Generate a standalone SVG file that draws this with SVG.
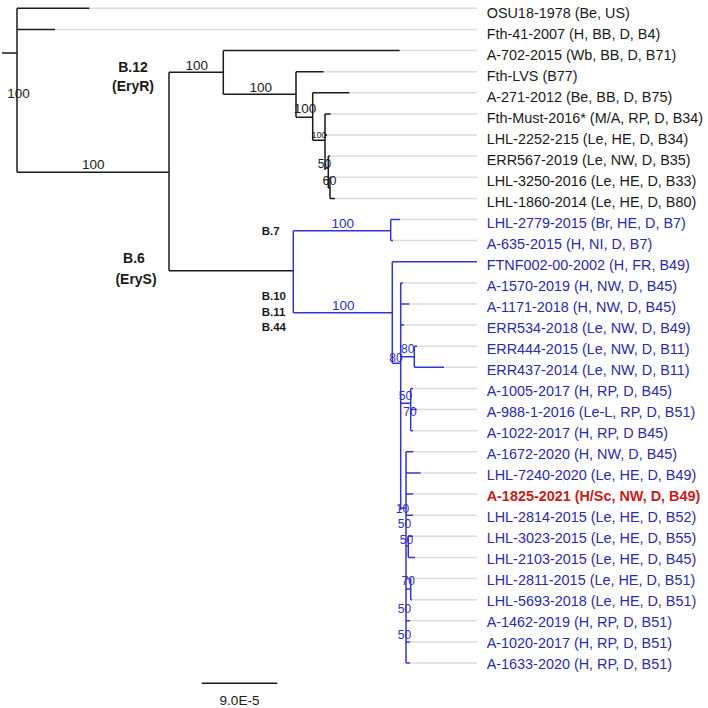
<svg xmlns="http://www.w3.org/2000/svg" width="708" height="708" viewBox="0 0 708 708">
<style>
.k{stroke:#1a1a1a;stroke-width:1.5;fill:none}
.b{stroke:#3434d2;stroke-width:1.5;fill:none}
.g{stroke:#dcdcdc;stroke-width:1.5;fill:none}
.lk{font-family:"Liberation Sans",Arial,sans-serif;font-size:14.4px;fill:#1a1a1a}
.lb{font-family:"Liberation Sans",Arial,sans-serif;font-size:14.4px;fill:#2a2aae}
.lr{font-family:"Liberation Sans",Arial,sans-serif;font-size:14.4px;fill:#cc1a1a;font-weight:bold}
.sk{font-family:"Liberation Sans",Arial,sans-serif;font-size:13.5px;fill:#1a1a1a;text-anchor:middle}
.sb{font-family:"Liberation Sans",Arial,sans-serif;font-size:13.5px;fill:#3030c0;text-anchor:middle}
.ss{font-size:12px}
.cl{font-family:"Liberation Sans",Arial,sans-serif;font-size:14px;font-weight:bold;fill:#1a1a1a;text-anchor:middle}
.cs{font-family:"Liberation Sans",Arial,sans-serif;font-size:11.5px;font-weight:bold;fill:#1a1a1a}
</style>
<rect width="708" height="708" fill="#fff"/>
<g id="connectors">
<path class="g" d="M89.3 8.3H477M55 29.4H477M399.7 50.5H477M323.7 71.7H477M349.3 92.8H477M330.7 113.9H477M327 135H477M330 156.1H477M331 177.3H477M335 198.4H477M400 219.5H477M393 240.6H477M403 282.9H477M409.3 304H477M404 325.1H477M417 346.2H477M444 367.3H477M413 388.5H477M416.7 409.6H477M413 430.7H477M413.3 451.8H477M420.7 472.9H477M413.3 494.1H477M413 515.2H477M413 536.3H477M415 557.4H477M410 578.5H477M412 599.7H477M410 620.8H477M410 641.9H477M410 663H477"/>
<path class="k" d="M2 53H17M17 8.3V172.3M17 8.3H89.3M17 29.4H55M17 172.3H169M169 72.3V270.7M169 72.3H223.3M223.3 50.5V94.3M223.3 50.5H399.7M223.3 94.3H296M296 71.7V117.3M296 71.7H323.7M296 117.3H312.7M312.7 92.8V140.3M312.7 92.8H349.3M312.7 140.3H325M325 113.9V170M325 113.9H330.7M325 135H327M325 168H328.3M328.3 156.1V188M328.3 156.1H330M328.3 188H330M330 177.3V198.4M330 177.3H331M330 198.4H335M169 270.7H293.3"/>
<path class="b" d="M293.3 230.7V312.7M293.3 230.7H390.7M390.7 219.5V240.6M390.7 219.5H400M390.7 240.6H393M293.3 312.7H392.3M392.3 261.7V363.3M392.3 261.7H477M392.3 363.3H400.7M400.7 282.9V510M400.7 282.9H403M400.7 304H409.3M400.7 325.1H404M400.7 356.7H414.3M414.3 346.2V367.3M414.3 346.2H417M414.3 367.3H444M400.7 403.3H410.7M410.7 388.5V430.7M410.7 388.5H413M410.7 409.6H416.7M410.7 430.7H413M400.7 508H406M406 451.8V663M406 451.8H413.3M406 472.9H420.7M406 494.1H413.3M406 515.2H413M406 546H408.3M408.3 536.3V557.4M408.3 536.3H413M408.3 557.4H415M406 578.5H410M406 589H410.7M410.7 578.5V599.7M410.7 599.7H412M406 620.8H410M406 641.9H410M406 663H410"/>
<path class="k" d="M201.7 683.3H277.3"/>
</g>
<g id="supports">
<text class="sk" x="18.5" y="97.8">100</text>
<text class="sk" x="93.3" y="168.8">100</text>
<text class="sk" x="196.7" y="69.8">100</text>
<text class="sk" x="260.7" y="91.5">100</text>
<text class="sk" x="305" y="113">100</text>
<text class="sk" x="319" y="138.2" style="font-size:9px">100</text>
<text class="sk ss" x="324.5" y="167.5">50</text>
<text class="sk" x="329.5" y="184.5" style="font-size:12.5px">60</text>
<text class="sb" x="342.7" y="227.5">100</text>
<text class="sb" x="343.3" y="309.8">100</text>
<text class="sb ss" x="396" y="361.5">80</text>
<text class="sb ss" x="407.7" y="353.2">80</text>
<text class="sb ss" x="405.5" y="400.2">50</text>
<text class="sb ss" x="410" y="415.9">70</text>
<text class="sb ss" x="402.5" y="512.5">10</text>
<text class="sb ss" x="404.5" y="527.5">50</text>
<text class="sb ss" x="406.5" y="543.5">50</text>
<text class="sb ss" x="408.3" y="585.2">70</text>
<text class="sb ss" x="404.5" y="612.5">50</text>
<text class="sb ss" x="404.5" y="638.5">50</text>
</g>
<g id="clades">
<text class="cl" x="133" y="71.5">B.12</text>
<text class="cl" x="133" y="91">(EryR)</text>
<text class="cl" x="134" y="263">B.6</text>
<text class="cl" x="136" y="284">(EryS)</text>
<text class="cs" x="261.7" y="235">B.7</text>
<text class="cs" x="261.7" y="300">B.10</text>
<text class="cs" x="261.7" y="316">B.11</text>
<text class="cs" x="261.7" y="331">B.44</text>
</g>
<g id="leaf0"><text class="lk" x="486.7" y="17.5">OSU18-1978 (Be, US)</text></g>
<g id="leaf1"><text class="lk" x="486.7" y="38.5">Fth-41-2007 (H, BB, D, B4)</text></g>
<g id="leaf2"><text class="lk" x="486.7" y="59.5">A-702-2015 (Wb, BB, D, B71)</text></g>
<g id="leaf3"><text class="lk" x="486.7" y="80.6">Fth-LVS (B77)</text></g>
<g id="leaf4"><text class="lk" x="486.7" y="101.6">A-271-2012 (Be, BB, D, B75)</text></g>
<g id="leaf5"><text class="lk" x="486.7" y="122.6">Fth-Must-2016* (M/A, RP, D, B34)</text></g>
<g id="leaf6"><text class="lk" x="486.7" y="143.6">LHL-2252-215 (Le, HE, D, B34)</text></g>
<g id="leaf7"><text class="lk" x="486.7" y="164.6">ERR567-2019 (Le, NW, D, B35)</text></g>
<g id="leaf8"><text class="lk" x="486.7" y="185.7">LHL-3250-2016 (Le, HE, D, B33)</text></g>
<g id="leaf9"><text class="lk" x="486.7" y="206.7">LHL-1860-2014 (Le, HE, D, B80)</text></g>
<g id="leaf10"><text class="lb" x="486.7" y="227.7">LHL-2779-2015 (Br, HE, D, B7)</text></g>
<g id="leaf11"><text class="lb" x="486.7" y="248.7">A-635-2015 (H, NI, D, B7)</text></g>
<g id="leaf12"><text class="lb" x="486.7" y="269.7">FTNF002-00-2002 (H, FR, B49)</text></g>
<g id="leaf13"><text class="lb" x="486.7" y="290.8">A-1570-2019 (H, NW, D, B45)</text></g>
<g id="leaf14"><text class="lb" x="486.7" y="311.8">A-1171-2018 (H, NW, D, B45)</text></g>
<g id="leaf15"><text class="lb" x="486.7" y="332.8">ERR534-2018 (Le, NW, D, B49)</text></g>
<g id="leaf16"><text class="lb" x="486.7" y="353.8">ERR444-2015 (Le, NW, D, B11)</text></g>
<g id="leaf17"><text class="lb" x="486.7" y="374.8">ERR437-2014 (Le, NW, D, B11)</text></g>
<g id="leaf18"><text class="lb" x="486.7" y="395.9">A-1005-2017 (H, RP, D, B45)</text></g>
<g id="leaf19"><text class="lb" x="486.7" y="416.9">A-988-1-2016 (Le-L, RP, D, B51)</text></g>
<g id="leaf20"><text class="lb" x="486.7" y="437.9">A-1022-2017 (H, RP, D B45)</text></g>
<g id="leaf21"><text class="lb" x="486.7" y="458.9">A-1672-2020 (H, NW, D, B45)</text></g>
<g id="leaf22"><text class="lb" x="486.7" y="479.9">LHL-7240-2020 (Le, HE, D, B49)</text></g>
<g id="leaf23"><text class="lr" x="486.7" y="501">A-1825-2021 (H/Sc, NW, D, B49)</text></g>
<g id="leaf24"><text class="lb" x="486.7" y="522">LHL-2814-2015 (Le, HE, D, B52)</text></g>
<g id="leaf25"><text class="lb" x="486.7" y="543">LHL-3023-2015 (Le, HE, D, B55)</text></g>
<g id="leaf26"><text class="lb" x="486.7" y="564">LHL-2103-2015 (Le, HE, D, B45)</text></g>
<g id="leaf27"><text class="lb" x="486.7" y="585">LHL-2811-2015 (Le, HE, D, B51)</text></g>
<g id="leaf28"><text class="lb" x="486.7" y="606.1">LHL-5693-2018 (Le, HE, D, B51)</text></g>
<g id="leaf29"><text class="lb" x="486.7" y="627.1">A-1462-2019 (H, RP, D, B51)</text></g>
<g id="leaf30"><text class="lb" x="486.7" y="648.1">A-1020-2017 (H, RP, D, B51)</text></g>
<g id="leaf31"><text class="lb" x="486.7" y="669.1">A-1633-2020 (H, RP, D, B51)</text></g>
<g id="scale"><text class="sk" x="239.5" y="705">9.0E-5</text></g>
</svg>
